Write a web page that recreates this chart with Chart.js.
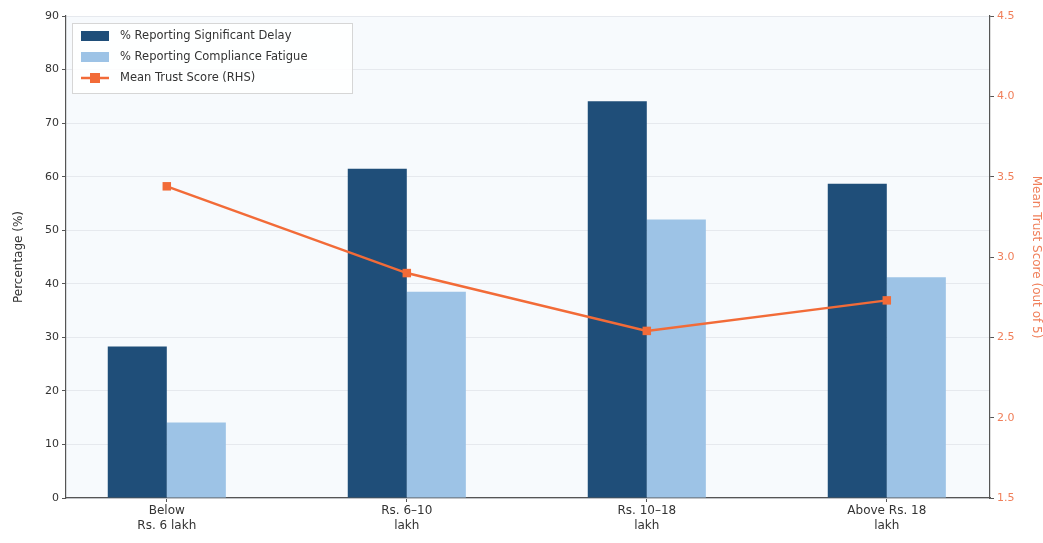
<!DOCTYPE html>
<html>
<head>
<meta charset="utf-8">
<script src="https://cdn.jsdelivr.net/npm/chart.js@4.4.1/dist/chart.umd.min.js"></script>
<style>
  html, body { margin: 0; padding: 0; background: #fff; }
  #wrap { width: 1043px; height: 543px; position: relative; }
</style>
</head>
<body>
<div id="wrap"><canvas id="canvas" width="1043" height="543"></canvas></div>
<script>
// income brackets and survey results
var categories = [["Below", "Rs. 6 lakh"], ["Rs. 6\u201310", "lakh"], ["Rs. 10\u201318", "lakh"], ["Above Rs. 18", "lakh"]];
var delayPct = [28.3, 61.5, 74.1, 58.7];
var fatiguePct = [14.1, 38.5, 52.0, 41.2];
var trustScore = [3.44, 2.90, 2.54, 2.73];

var DARK = '#1f4e79', LIGHT = '#9dc3e6', ORANGE = '#f26b38';
var TXT = '#333333';
var FONT = "'DejaVu Sans', sans-serif";

function pts(arr) {
    return arr.map(function(v, i) { return {x: i, y: v}; });
}

// light plot background
var bgPlugin = {
    id: 'plotBg',
    beforeDraw: function(chart) {
        var a = chart.chartArea, ctx = chart.ctx;
        ctx.save();
        ctx.fillStyle = '#f7fafd';
        ctx.fillRect(a.left, a.top, a.right - a.left, a.bottom - a.top);
        ctx.restore();
    }
};

// legend drawn in the upper left corner of the plot, matplotlib style
var boxLegend = {
    id: 'boxLegend',
    afterDraw: function(chart) {
        var ctx = chart.ctx, a = chart.chartArea;
        var x0 = a.left + 6, y0 = a.top + 7, w = 280, h = 70;
        ctx.save();
        ctx.fillStyle = 'rgba(255,255,255,0.85)';
        ctx.strokeStyle = '#d6d6d6';
        ctx.lineWidth = 1;
        ctx.fillRect(x0, y0, w, h);
        ctx.strokeRect(x0 + 0.5, y0 + 0.5, w, h);
        ctx.font = '11.5px ' + FONT;
        ctx.textBaseline = 'middle';
        chart.data.datasets.forEach(function(ds, i) {
            var cy = y0 + 13 + i * 21;
            if (ds.type === 'line') {
                ctx.strokeStyle = ds.borderColor;
                ctx.lineWidth = 2.5;
                ctx.beginPath();
                ctx.moveTo(x0 + 9, cy);
                ctx.lineTo(x0 + 37, cy);
                ctx.stroke();
                ctx.fillStyle = ds.borderColor;
                ctx.fillRect(x0 + 18, cy - 5, 10, 10);
            } else {
                ctx.fillStyle = ds.backgroundColor;
                ctx.fillRect(x0 + 9, cy - 5, 28, 10);
            }
            ctx.fillStyle = TXT;
            ctx.fillText(ds.label, x0 + 48, cy);
        });
        ctx.restore();
    }
};

var chart = new Chart(document.getElementById('canvas').getContext('2d'), {
    type: 'bar',
    data: {
        datasets: [
            {label: '% Reporting Significant Delay', data: pts(delayPct), backgroundColor: DARK, yAxisID: 'y', order: 2},
            {label: '% Reporting Compliance Fatigue', data: pts(fatiguePct), backgroundColor: LIGHT, yAxisID: 'y', order: 2},
            {type: 'line', label: 'Mean Trust Score (RHS)', data: pts(trustScore), yAxisID: 'y1', order: 0,
             borderColor: ORANGE, backgroundColor: ORANGE, borderWidth: 2.5,
             pointStyle: 'rect', pointRadius: 6, pointBackgroundColor: ORANGE, pointBorderWidth: 0}
        ]
    },
    options: {
        responsive: false,
        animation: false,
        layout: {padding: {top: 16, left: 0, right: 0, bottom: 0}},
        datasets: {bar: {categoryPercentage: 0.492, barPercentage: 1}},
        plugins: {legend: {display: false}, tooltip: {enabled: false}},
        scales: {
            x: {
                type: 'linear', min: -0.42, max: 3.43, offset: false,
                afterFit: function(s) { s.height = 45; },
                border: {color: '#555', width: 1.2},
                grid: {offset: false, drawOnChartArea: false, drawTicks: true, tickLength: 4, color: '#555'},
                ticks: {
                    stepSize: 1, includeBounds: false, autoSkip: false, maxRotation: 0,
                    color: TXT, font: {family: FONT, size: 12}, padding: 2,
                    callback: function(v) { return Number.isInteger(v) ? categories[v] : ''; }
                }
            },
            y: {
                position: 'left', min: 0, max: 90,
                afterFit: function(s) { s.width = 66; },
                border: {color: '#555', width: 1.2},
                grid: {color: '#e6e9ee', tickLength: 4, tickColor: '#555'},
                ticks: {stepSize: 10, color: TXT, font: {family: FONT, size: 11}, padding: 3},
                title: {display: true, text: 'Percentage (%)', color: TXT, font: {family: FONT, size: 12}, padding: {top: 12, bottom: 0}}
            },
            y1: {
                position: 'right', min: 1.5, max: 4.5,
                afterFit: function(s) { s.width = 53; },
                border: {color: '#555', width: 1.2},
                grid: {drawOnChartArea: false, tickLength: 4, color: '#555'},
                ticks: {stepSize: 0.5, color: '#f07f5a', font: {family: FONT, size: 11}, padding: 3,
                        callback: function(v) { return v.toFixed(1); }},
                title: {display: true, text: 'Mean Trust Score (out of 5)', color: '#f07f5a', font: {family: FONT, size: 12}, padding: 0}
            }
        }
    },
    plugins: [bgPlugin, boxLegend]
});
</script>
</body>
</html>
